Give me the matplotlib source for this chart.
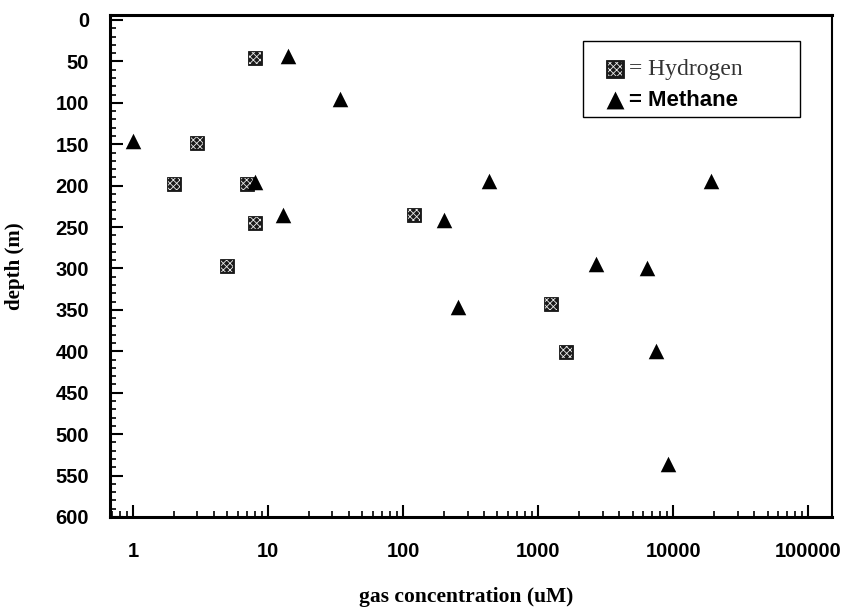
import numpy as np
import matplotlib
matplotlib.use('Agg')
import matplotlib.pyplot as plt
from matplotlib.ticker import LogLocator, MultipleLocator, FixedLocator, NullFormatter
from matplotlib.patches import Rectangle
from matplotlib.legend_handler import HandlerTuple

# datos
h_conc = [8, 3, 2, 7, 8, 5, 120, 1250, 1600]
h_depth = [46, 148, 198, 198, 245, 297, 235, 343, 401]

m_conc = [14, 34, 1, 8, 13, 200, 430, 19000, 2700, 6400, 255, 7400, 9200]
m_depth = [44, 95, 146, 196, 235, 241, 195, 195, 294, 300, 346, 400, 536]

x_ticks = [1, 10, 100, 1000, 10000, 100000]
x_ticklabels = ['1', '10', '100', '1000', '10000', '100000']
y_ticks = list(range(0, 601, 50))

plt.rcParams['hatch.linewidth'] = 0.6

fig = plt.figure(figsize=(8.49, 6.07), dpi=100)
ax = fig.add_axes([0.1296, 0.1483, 0.8504, 0.827])

# cuadrados "tramados": fondo negro + trama blanca encima
hyd = ax.scatter(h_conc, h_depth, marker='s', s=115, facecolor='#1a1a1a',
                 edgecolor='black', linewidths=0.5, zorder=3)
hyd_t = ax.scatter(h_conc, h_depth, marker='s', s=75, facecolor='none',
                   edgecolor='#e8e8e8', hatch='xxxxx', linewidths=0, zorder=3)
met = ax.scatter(m_conc, m_depth, marker='^', s=125, color='black',
                 linewidths=0, zorder=3)

ax.set_xscale('log')
ax.set_xlim(0.676, 150000)
ax.set_ylim(600, -6)

# ticks
ax.xaxis.set_major_locator(FixedLocator(x_ticks))
ax.set_xticklabels(x_ticklabels)
ax.xaxis.set_minor_locator(LogLocator(base=10, subs=np.arange(2, 10)))
ax.xaxis.set_minor_formatter(NullFormatter())
ax.yaxis.set_major_locator(FixedLocator(y_ticks))
ax.yaxis.set_minor_locator(MultipleLocator(10))

ax.tick_params(axis='both', which='major', direction='in', length=9, width=1.5,
               top=False, right=False, labelsize=14.5)
ax.tick_params(axis='both', which='minor', direction='in', length=4, width=1.2,
               top=False, right=False)
ax.tick_params(axis='y', which='major', pad=15)
ax.tick_params(axis='x', which='major', pad=18)
for lbl in ax.get_xticklabels() + ax.get_yticklabels():
    lbl.set_fontfamily('Liberation Sans')
    lbl.set_fontweight('bold')

for side in ['left', 'bottom', 'top']:
    ax.spines[side].set_linewidth(2.2)
ax.spines['right'].set_linewidth(1.5)

ax.set_ylabel('depth (m)', fontfamily='Liberation Serif', fontweight='bold',
              fontsize=15)
ax.yaxis.set_label_coords(-0.118, 0.5)
ax.set_xlabel('gas concentration (uM)', fontfamily='Liberation Serif',
              fontweight='bold', fontsize=15.5)
ax.xaxis.set_label_coords(0.493, -0.14)

# recuadro de la leyenda
ax.add_patch(Rectangle((0.655, 0.797), 0.301, 0.151, transform=ax.transAxes,
                       facecolor='white', edgecolor='black', linewidth=1.0,
                       zorder=4))
leg = ax.legend(handles=[(hyd, hyd_t), met], labels=['= Hydrogen', '= Methane'],
                handler_map={tuple: HandlerTuple(ndivide=1)},
                loc='upper left', bbox_to_anchor=(0.684, 0.912), frameon=False,
                prop={'size': 16}, handlelength=1.0, handletextpad=0.15,
                labelspacing=0.42, borderpad=0, borderaxespad=0,
                scatterpoints=1, markerscale=1.15)
leg.set_zorder(5)
txt_h, txt_m = leg.get_texts()
txt_h.set_fontfamily('Liberation Serif')
txt_h.set_fontsize(17)
txt_h.set_color('#333333')
txt_m.set_fontfamily('Liberation Sans')
txt_m.set_fontweight('bold')
txt_m.set_fontsize(16)

fig.savefig('out.png', dpi=100)
